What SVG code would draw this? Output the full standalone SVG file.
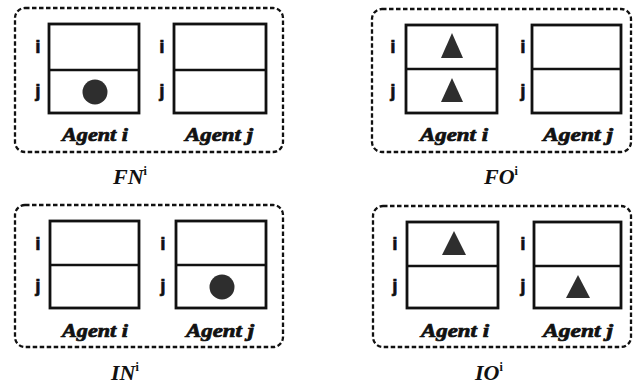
<svg xmlns="http://www.w3.org/2000/svg" width="633" height="384" viewBox="0 0 633 384">
<style>
.frame{fill:none;stroke:#111;stroke-width:2.3;stroke-dasharray:4.5 2.5}
.box{fill:#fff;stroke:#111;stroke-width:2.8}
.div{stroke:#111;stroke-width:2.4}
.lbl{font-family:"Liberation Sans",Arial,sans-serif;font-weight:bold;font-size:19px;fill:#111;text-anchor:middle;stroke:#111;stroke-width:0.6}
.agent{font-family:"Liberation Serif","Times New Roman",serif;font-weight:bold;font-style:italic;font-size:18px;fill:#111;text-anchor:middle;stroke:#111;stroke-width:0.7}
.cap{font-family:"Liberation Serif","Times New Roman",serif;font-weight:bold;font-style:italic;font-size:22px;fill:#111}
.sup{font-size:12px;font-style:normal}
.tok{fill:#2e2e2e}
</style>
<rect width="633" height="384" fill="#fff"/>

<g id="FN">
<rect class="frame" x="15" y="8" width="268" height="144" rx="10"/>
<rect class="box" x="49" y="24" width="90" height="89"/>
<line class="div" x1="49" y1="70" x2="139" y2="70"/>
<rect class="box" x="174" y="24" width="92" height="89"/>
<line class="div" x1="174" y1="70" x2="266" y2="70"/>
<text class="lbl" x="38" y="53">i</text>
<text class="lbl" x="38" y="97">j</text>
<text class="lbl" x="162" y="53">i</text>
<text class="lbl" x="162" y="97">j</text>
<circle class="tok" cx="95" cy="92" r="12.5"/>
<text class="agent" x="95" y="141" textLength="66" lengthAdjust="spacingAndGlyphs">Agent i</text>
<text class="agent" x="219" y="141" textLength="68" lengthAdjust="spacingAndGlyphs">Agent j</text>
<text class="cap" x="113" y="184">FN<tspan class="sup" dy="-9">i</tspan></text>
</g>

<g id="FO">
<rect class="frame" x="372" y="9" width="259" height="143" rx="10"/>
<rect class="box" x="406" y="25" width="91" height="88"/>
<line class="div" x1="406" y1="69" x2="497" y2="69"/>
<rect class="box" x="532" y="25" width="89" height="88"/>
<line class="div" x1="532" y1="69" x2="621" y2="69"/>
<text class="lbl" x="393" y="53">i</text>
<text class="lbl" x="393" y="97">j</text>
<text class="lbl" x="523" y="53">i</text>
<text class="lbl" x="523" y="97">j</text>
<polygon class="tok" points="452,33 441,58 463,58"/>
<polygon class="tok" points="452,78 441,102 463,102"/>
<text class="agent" x="454" y="141" textLength="68" lengthAdjust="spacingAndGlyphs">Agent i</text>
<text class="agent" x="578" y="141" textLength="70" lengthAdjust="spacingAndGlyphs">Agent j</text>
<text class="cap" x="484" y="184">FO<tspan class="sup" dy="-9">i</tspan></text>
</g>

<g id="IN">
<rect class="frame" x="15" y="205" width="268" height="142" rx="10"/>
<rect class="box" x="50" y="221" width="89" height="87"/>
<line class="div" x1="50" y1="265" x2="139" y2="265"/>
<rect class="box" x="176" y="221" width="90" height="87"/>
<line class="div" x1="176" y1="265" x2="266" y2="265"/>
<text class="lbl" x="38" y="250">i</text>
<text class="lbl" x="38" y="292">j</text>
<text class="lbl" x="163" y="250">i</text>
<text class="lbl" x="163" y="292">j</text>
<circle class="tok" cx="222" cy="287" r="12.5"/>
<text class="agent" x="95" y="337" textLength="66" lengthAdjust="spacingAndGlyphs">Agent i</text>
<text class="agent" x="220" y="337" textLength="68" lengthAdjust="spacingAndGlyphs">Agent j</text>
<text class="cap" x="111" y="380">IN<tspan class="sup" dy="-9">i</tspan></text>
</g>

<g id="IO">
<rect class="frame" x="373" y="206" width="258" height="141" rx="10"/>
<rect class="box" x="407" y="222" width="91" height="86"/>
<line class="div" x1="407" y1="266" x2="498" y2="266"/>
<rect class="box" x="534" y="222" width="87" height="86"/>
<line class="div" x1="534" y1="266" x2="621" y2="266"/>
<text class="lbl" x="395" y="250">i</text>
<text class="lbl" x="395" y="292">j</text>
<text class="lbl" x="523" y="250">i</text>
<text class="lbl" x="523" y="292">j</text>
<polygon class="tok" points="454,231 442,255 466,255"/>
<polygon class="tok" points="578,275 566,298 590,298"/>
<text class="agent" x="455" y="337" textLength="68" lengthAdjust="spacingAndGlyphs">Agent i</text>
<text class="agent" x="578" y="337" textLength="70" lengthAdjust="spacingAndGlyphs">Agent j</text>
<text class="cap" x="475" y="380">IO<tspan class="sup" dy="-9">i</tspan></text>
</g>

<g id="connectors"/>
</svg>
